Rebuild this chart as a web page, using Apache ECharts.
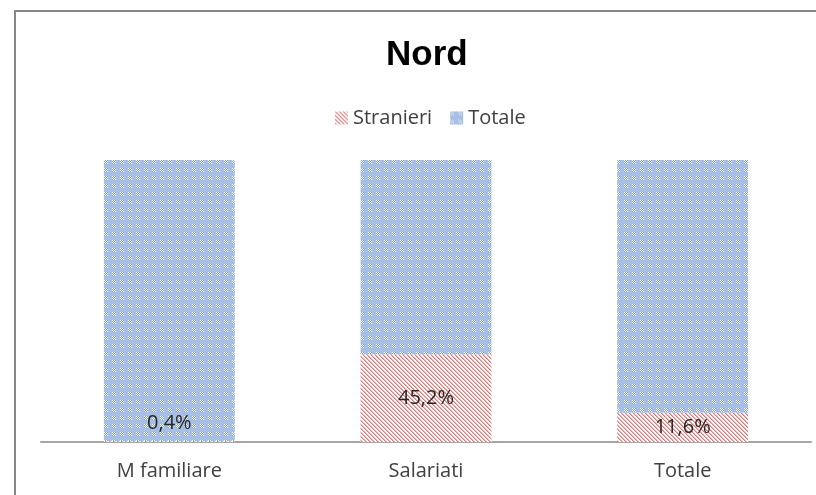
<!DOCTYPE html>
<html>
<head>
<meta charset="utf-8">
<script src="https://cdn.jsdelivr.net/npm/echarts@6/dist/echarts.min.js"></script>
<style>
  html, body { margin: 0; padding: 0; background: #fff; }
  #chart { width: 816px; height: 495px; }
</style>
</head>
<body>
<div id="chart"></div>
<script>
const categories = ['M familiare', 'Salariati', 'Totale']
const stranieri = [0.4, 45.2, 11.6]
const totale = [100, 100, 100]

// Excel-like fill patterns
const makePattern = (size, draw) => {
  const c = document.createElement('canvas')
  c.width = size
  c.height = size
  draw(c.getContext('2d'))
  return { image: c, repeat: 'repeat' }
}

const redHatch = makePattern(4, ctx => {
  ctx.fillStyle = '#ffffff'
  ctx.fillRect(0, 0, 4, 4)
  for (let y = 0; y < 4; y++) {
    for (let x = 0; x < 4; x++) {
      const d = ((x - y) % 4 + 4) % 4
      if (d === 0) {
        ctx.fillStyle = '#e07a78'
        ctx.fillRect(x, y, 1, 1)
      } else if (d === 1) {
        ctx.fillStyle = '#f0b4b3'
        ctx.fillRect(x, y, 1, 1)
      }
    }
  }
})

const blueDots = makePattern(8, ctx => {
  ctx.fillStyle = '#a7bfe4'
  ctx.fillRect(0, 0, 8, 8)
  for (let y = 0; y < 4; y++) {
    for (let x = 0; x < 4; x++) {
      ctx.fillStyle = (x + y) % 2 === 0 ? '#ffffff' : '#7d9fd6'
      ctx.fillRect(x, y, 1, 1)
    }
  }
})

// 100% stacked: share of each part in the column
const sums = stranieri.map((s, i) => s + totale[i])
const strShare = stranieri.map((s, i) => s / sums[i] * 100)
const totShare = totale.map((t, i) => t / sums[i] * 100)

const fmt = v => v.toFixed(1).replace('.', ',') + '%'

const strData = strShare.map((v, i) => {
  const item = { value: v, raw: stranieri[i] }
  if (v < 5) {
    item.label = { position: 'insideBottom', distance: 9 }
  }
  return item
})

const font = 'Open Sans'

const chart = echarts.init(document.getElementById('chart'))
chart.setOption({
  backgroundColor: '#ffffff',
  animation: false,
  title: {
    text: 'Nord',
    left: 381,
    top: 33,
    textStyle: {
      fontFamily: 'Liberation Sans',
      fontWeight: 'bold',
      fontSize: 35,
      color: '#000000'
    }
  },
  legend: {
    top: 103,
    left: 330,
    icon: 'rect',
    itemWidth: 13,
    itemHeight: 13,
    itemGap: 18,
    textStyle: {
      fontFamily: font,
      fontSize: 20,
      color: '#404040'
    },
    data: ['Stranieri', 'Totale']
  },
  grid: {
    left: 41,
    right: 5,
    top: 160,
    bottom: 53
  },
  xAxis: {
    type: 'category',
    data: categories,
    axisTick: { show: false },
    axisLine: { lineStyle: { color: '#a6a6a6', width: 2 } },
    axisLabel: {
      margin: 19,
      fontFamily: font,
      fontSize: 20,
      color: '#404040'
    }
  },
  yAxis: {
    type: 'value',
    min: 0,
    max: 100,
    show: false,
    splitLine: { show: false }
  },
  graphic: [
    {
      type: 'rect',
      shape: { x: 15, y: 11, width: 900, height: 600 },
      style: { fill: 'none', stroke: '#878787', lineWidth: 2 },
      silent: true
    }
  ],
  series: [
    {
      name: 'Stranieri',
      type: 'bar',
      stack: 'tot',
      barWidth: '51%',
      itemStyle: { color: redHatch },
      label: {
        show: true,
        position: 'inside',
        fontFamily: font,
        fontSize: 20,
        color: '#262626',
        formatter: p => fmt(p.data.raw)
      },
      data: strData
    },
    {
      name: 'Totale',
      type: 'bar',
      stack: 'tot',
      barWidth: '51%',
      itemStyle: { color: blueDots },
      data: totShare
    }
  ]
})
</script>
</body>
</html>
